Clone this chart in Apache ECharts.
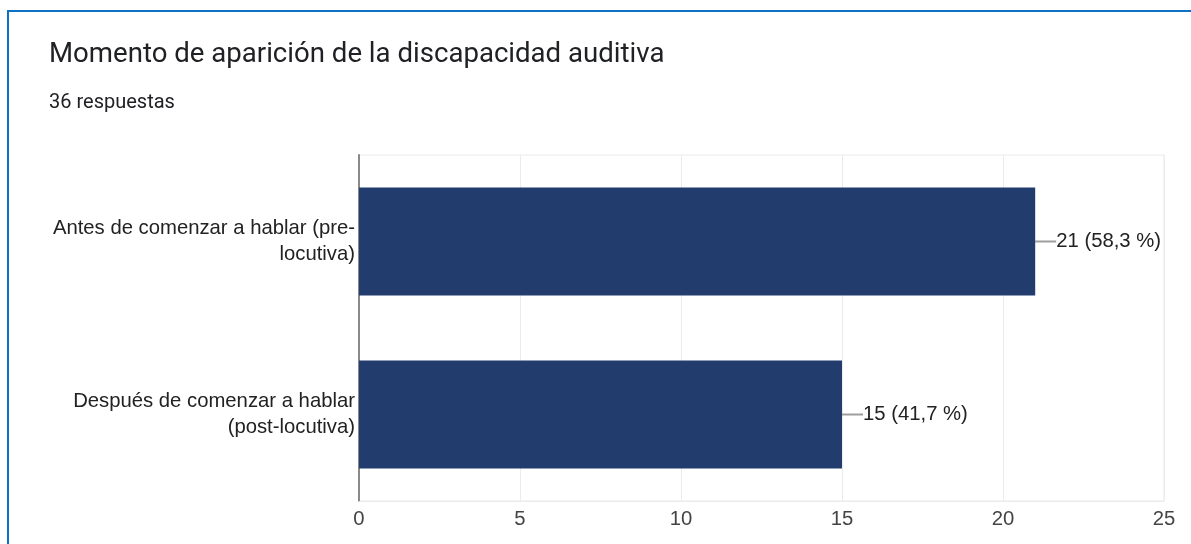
<!DOCTYPE html>
<html>
<head>
<meta charset="utf-8">
<script src="https://cdn.jsdelivr.net/npm/echarts@6/dist/echarts.min.js"></script>
<style>
  html, body { margin: 0; padding: 0; background: #ffffff; }
  #chart { width: 1191px; height: 544px; }
</style>
</head>
<body>
<div id="chart"></div>
<script>
// Survey answers: when the hearing loss appeared
const categories = [
  'Antes de comenzar a hablar (pre-\nlocutiva)',
  'Después de comenzar a hablar\n(post-locutiva)'
];
const counts = [21, 15];
const percents = ['58,3', '41,7'];
const totalAnswers = 36;
const xTicks = { min: 0, max: 25, interval: 5 };

const chart = echarts.init(document.getElementById('chart'), null, { renderer: 'canvas' });

const labelFont = 'Arial, "Liberation Sans", sans-serif';
const labelSize = 20.3;

chart.setOption({
  backgroundColor: '#ffffff',
  animation: false,
  graphic: [
    {
      type: 'rect',
      shape: { x: 8, y: 11, width: 1220, height: 600 },
      style: { fill: 'none', stroke: '#0b72c6', lineWidth: 2 },
      silent: true,
      z: 10
    }
  ],
  title: [
    {
      text: 'Momento de aparición de la discapacidad auditiva',
      left: 44,
      top: 36,
      textStyle: { fontFamily: 'Roboto, sans-serif', fontSize: 27.6, fontWeight: 'normal', color: '#202124' }
    },
    {
      text: totalAnswers + ' respuestas',
      left: 44,
      top: 88,
      textStyle: { fontFamily: 'Roboto, sans-serif', fontSize: 20, fontWeight: 'normal', color: '#202124' }
    }
  ],
  grid: {
    left: 359,
    right: 27,
    top: 155,
    bottom: 43,
    show: true,
    borderColor: '#ebebeb',
    borderWidth: 1
  },
  xAxis: {
    type: 'value',
    min: xTicks.min,
    max: xTicks.max,
    interval: xTicks.interval,
    axisLine: { show: true, lineStyle: { color: '#ebebeb', width: 1 } },
    axisTick: { show: false },
    splitLine: { show: true, lineStyle: { color: '#ebebeb', width: 1 } },
    axisLabel: { fontFamily: labelFont, fontSize: labelSize, color: '#444444', margin: 8 }
  },
  yAxis: {
    type: 'category',
    data: categories,
    inverse: true,
    axisLine: { show: true, lineStyle: { color: '#8a8a8a', width: 2 } },
    axisTick: { show: false },
    axisLabel: {
      fontFamily: labelFont,
      fontSize: labelSize,
      lineHeight: 26,
      color: '#222222',
      align: 'right',
      margin: 4
    }
  },
  series: [
    {
      type: 'bar',
      data: counts,
      barWidth: '62.4%',
      itemStyle: { color: '#233c6e' },
      label: {
        show: true,
        position: 'right',
        distance: 1,
        fontFamily: labelFont,
        fontSize: labelSize,
        color: '#222222',
        formatter: (p) => p.value + ' (' + percents[p.dataIndex] + ' %)'
      },
      labelLayout: { dx: 20 },
      labelLine: { show: true, lineStyle: { color: '#9e9e9e', width: 2 } },
      z: 3
    }
  ]
});
</script>
</body>
</html>
